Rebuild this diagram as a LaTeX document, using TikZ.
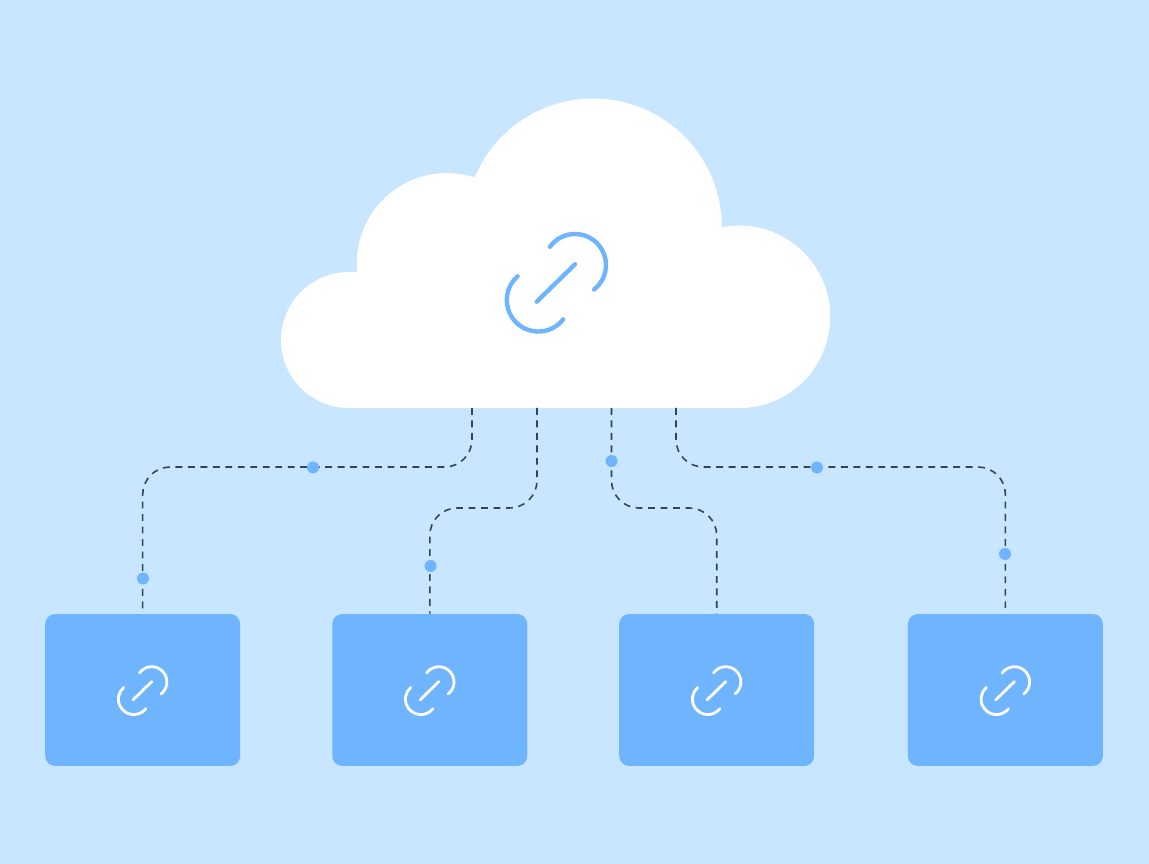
\documentclass[tikz,border=0pt]{standalone}
\usetikzlibrary{shapes.geometric}

\definecolor{skyback}{RGB}{200,230,255}
\definecolor{linkblue}{RGB}{110,180,255}
\definecolor{wireslate}{RGB}{45,70,90}

\tikzset{
    devicebox/.style={fill=linkblue,rounded corners=0.2cm,inner sep=0pt,
        minimum width=3.9cm,minimum height=3.04cm},
    linkwire/.style={wireslate,line width=0.9pt,line cap=butt,
        dash pattern=on 3.9pt off 3.2pt,rounded corners=0.55cm},
    linkdot/.style={circle,fill=linkblue,inner sep=0pt,minimum size=0.24cm}
}

% Eslabon: #1 centro, #2 escala, #3 color, #4 grosor
\newcommand{\linkmark}[4]{
    \begin{scope}[shift={#1},scale=#2]
        \draw[#3,line width=#4] (-6.6,-35.7)
            arc [start angle=216,end angle=412,radius=31];
        \draw[#3,line width=#4] (6.6,36.9)
            arc [start angle=38,end angle=229,radius=31.5];
        \draw[#3,line width=#4] (-19.8,19.2) -- (18.5,-18.2);
    \end{scope}
}

\begin{document}
\begin{tikzpicture}[x=0.02cm,y=-0.02cm,line cap=round,line join=round]
        % Fondo
        \fill[skyback] (0,0) rectangle (1149,864);

        % Nube
        \fill[white] (349,408)
            arc [start angle=90,end angle=277,radius=68]
            arc [start angle=174,end angle=288,radius=90]
            arc [start angle=202.7,end angle=360,radius=128.6]
            arc [start angle=259.2,end angle=450,radius=91.3]
            -- cycle;
        \linkmark{(556.5,282.5)}{1}{linkblue}{2.5pt}

        % Salidas de la nube
        \coordinate (cloudA) at (472,408);
        \coordinate (cloudB) at (537,408);
        \coordinate (cloudC) at (611.5,408);
        \coordinate (cloudD) at (676,408);

        % Cajas inferiores
        \foreach \name/\x in {boxA/142.7,boxB/429.8,boxC/716.7,boxD/1005.4} {
            \node[devicebox] (\name) at (\x,690) {};
            \linkmark{(\x,690.5)}{0.49}{white}{1.6pt}
        }

        % Conexiones
        \draw[linkwire] (cloudA) -- ++(0,59) -| (boxA.north);
        \draw[linkwire] (cloudB) -- ++(0,100) -| (boxB.north);
        \draw[linkwire] (cloudC) -- ++(0,100) -| (boxC.north);
        \draw[linkwire] (cloudD) -- ++(0,59) -| (boxD.north);

        % Puntos sobre las conexiones
        \node[linkdot] (dotA) at (313,467.5) {};
        \node[linkdot] (dotB) at (143,578.5) {};
        \node[linkdot] (dotC) at (430.5,566) {};
        \node[linkdot] (dotD) at (611.5,461) {};
        \node[linkdot] (dotE) at (817,467.5) {};
        \node[linkdot] (dotF) at (1005,554) {};
    \end{tikzpicture}
\end{document}
